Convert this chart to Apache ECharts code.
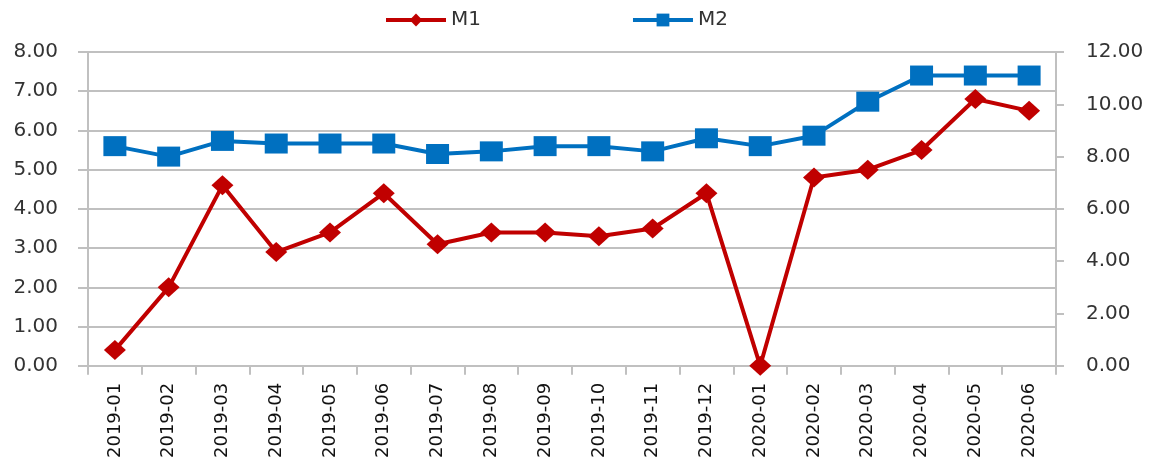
<!DOCTYPE html>
<html>
<head>
<meta charset="utf-8">
<script src="https://cdn.jsdelivr.net/npm/echarts@6/dist/echarts.min.js"></script>
<style>
html,body{margin:0;padding:0;background:#fff;}
#chart{width:1153px;height:461px;}
</style>
</head>
<body>
<div id="chart"></div>
<script>
const categories = ["2019-01","2019-02","2019-03","2019-04","2019-05","2019-06","2019-07","2019-08","2019-09","2019-10","2019-11","2019-12","2020-01","2020-02","2020-03","2020-04","2020-05","2020-06"];
const m1 = [0.4, 2.0, 4.6, 2.9, 3.4, 4.4, 3.1, 3.4, 3.4, 3.3, 3.5, 4.4, 0.0, 4.8, 5.0, 5.5, 6.8, 6.5];
const m2 = [8.4, 8.0, 8.6, 8.5, 8.5, 8.5, 8.1, 8.2, 8.4, 8.4, 8.2, 8.7, 8.4, 8.8, 10.1, 11.1, 11.1, 11.1];
const seriesNames = ["M1", "M2"];

const FONT = "DejaVu Sans";
const gridGray = "#c0c0c0";
const textColor = "#333333";

const chart = echarts.init(document.getElementById('chart'), null, {renderer: 'canvas'});
chart.setOption({
  animation: false,
  backgroundColor: '#ffffff',
  legend: {
    left: 384, top: 10, padding: 0,
    itemWidth: 60, itemHeight: 16, itemGap: 150,
    lineStyle: {width: 4},
    textStyle: {fontFamily: FONT, fontSize: 20, color: textColor},
    data: seriesNames
  },
  grid: {left: 88, right: 97, top: 52, bottom: 95, containLabel: false},
  xAxis: {
    type: 'category',
    data: categories,
    boundaryGap: true,
    axisLine: {show: true, lineStyle: {color: gridGray, width: 2}},
    axisTick: {show: true, length: 9, interval: 0, lineStyle: {color: gridGray, width: 2}},
    axisLabel: {rotate: 90, interval: 0, margin: 17, fontFamily: FONT, fontSize: 18, color: '#111'},
    splitLine: {show: false}
  },
  yAxis: [
    {
      type: 'value', min: 0, max: 8, interval: 1,
      axisLine: {show: true, lineStyle: {color: gridGray, width: 2}},
      axisTick: {show: true, length: 10, lineStyle: {color: gridGray, width: 2}},
      axisLabel: {margin: 30, fontFamily: FONT, fontSize: 20, color: textColor, formatter: v => v.toFixed(2)},
      splitLine: {show: true, lineStyle: {color: gridGray, width: 2}}
    },
    {
      type: 'value', min: 0, max: 12, interval: 2,
      alignTicks: false,
      axisLine: {show: true, lineStyle: {color: gridGray, width: 2}},
      axisTick: {show: true, length: 8, lineStyle: {color: gridGray, width: 2}},
      axisLabel: {margin: 30, fontFamily: FONT, fontSize: 20, color: textColor, formatter: v => v.toFixed(2)},
      splitLine: {show: false}
    }
  ],
  series: [
    {
      name: seriesNames[0], type: 'line', yAxisIndex: 0, data: m1,
      symbol: 'diamond', symbolSize: [22, 20],
      lineStyle: {color: '#c00000', width: 4},
      itemStyle: {color: '#c00000'},
      z: 3
    },
    {
      name: seriesNames[1], type: 'line', yAxisIndex: 1, data: m2,
      symbol: 'rect', symbolSize: [23, 20],
      lineStyle: {color: '#0070c0', width: 4},
      itemStyle: {color: '#0070c0'},
      z: 2
    }
  ]
});
</script>
</body>
</html>
